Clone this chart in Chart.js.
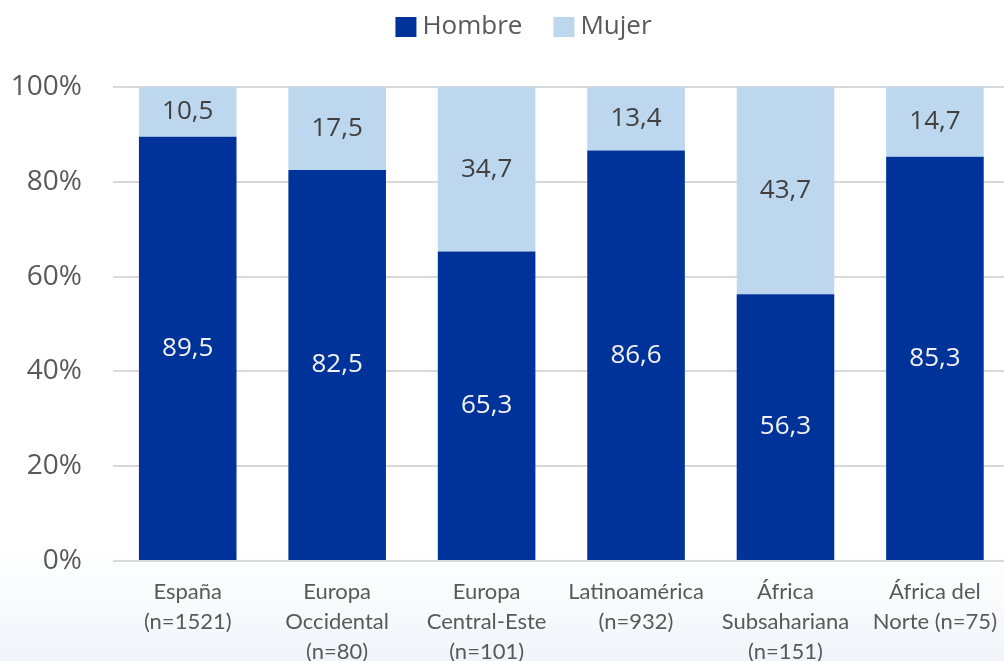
<!DOCTYPE html>
<html>
<head>
<meta charset="utf-8">
<script src="https://cdn.jsdelivr.net/npm/chart.js@4"></script>
<style>
  html, body { margin: 0; padding: 0; width: 1004px; height: 661px; overflow: hidden;
    background: linear-gradient(to bottom, #ffffff 0px, #ffffff 550px, #f1f5fa 661px); }
  #wrap { position: absolute; left: 0; top: 0; width: 1013px; height: 661px; }
</style>
</head>
<body>
<div id="wrap"><canvas id="c"></canvas></div>
<script>
const categories = [
  ["España", "(n=1521)"],
  ["Europa", "Occidental", "(n=80)"],
  ["Europa", "Central-Este", "(n=101)"],
  ["Latinoamérica", "(n=932)"],
  ["África", "Subsahariana", "(n=151)"],
  ["África del", "Norte (n=75)"]
];
const hombre = [89.5, 82.5, 65.3, 86.6, 56.3, 85.3];
const mujer = [10.5, 17.5, 34.7, 13.4, 43.7, 14.7];
const yTicks = [0, 20, 40, 60, 80, 100];

const labelPlugin = {
  id: 'valueLabels',
  afterDatasetsDraw(chart) {
    const ctx = chart.ctx;
    ctx.save();
    ctx.font = '26px "Open Sans"';
    ctx.textAlign = 'center';
    ctx.textBaseline = 'middle';
    chart.data.datasets.forEach((ds, i) => {
      const meta = chart.getDatasetMeta(i);
      ctx.fillStyle = ds.labelColor;
      meta.data.forEach((el, j) => {
        const v = ds.data[j];
        const y = (el.y + el.base) / 2;
        ctx.fillText(v.toFixed(1).replace('.', ','), el.x, y);
      });
    });
    ctx.restore();
  }
};

// Legend drawn from the datasets (label + colour), Excel-style spacing
const legendPlugin = {
  id: 'customLegend',
  afterDraw(chart) {
    const ctx = chart.ctx;
    const boxW = 21, boxH = 20, gap = 6, itemGap = 31, centerX = 523.5, centerY = 27;
    ctx.save();
    ctx.font = '26px "Open Sans"';
    ctx.textBaseline = 'middle';
    ctx.textAlign = 'left';
    const items = chart.data.datasets.map(ds => ({
      text: ds.label, color: ds.backgroundColor, w: ctx.measureText(ds.label).width
    }));
    let total = 0;
    items.forEach((it, i) => { total += boxW + gap + it.w + (i ? itemGap : 0); });
    let x = centerX - total / 2;
    items.forEach((it) => {
      ctx.fillStyle = it.color;
      ctx.fillRect(x, centerY - boxH / 2, boxW, boxH);
      ctx.fillStyle = '#595959';
      ctx.fillText(it.text, x + boxW + gap, centerY);
      x += boxW + gap + it.w + itemGap;
    });
    ctx.restore();
  }
};

new Chart(document.getElementById('c'), {
  type: 'bar',
  data: {
    labels: categories,
    datasets: [
      { label: 'Hombre', data: hombre, backgroundColor: '#003399', labelColor: '#f2f2f2',
        categoryPercentage: 1, barPercentage: 0.653 },
      { label: 'Mujer', data: mujer, backgroundColor: '#bdd7ee', labelColor: '#404040',
        categoryPercentage: 1, barPercentage: 0.653 }
    ]
  },
  options: {
    responsive: true,
    maintainAspectRatio: false,
    animation: false,
    layout: { padding: { top: 87, left: 0, right: 0, bottom: 0 } },
    plugins: {
      tooltip: { enabled: false },
      legend: { display: false }
    },
    scales: {
      x: {
        stacked: true,
        grid: { display: false, drawTicks: false },
        border: { display: false },
        ticks: {
          color: '#595959', padding: 16, maxRotation: 0, autoSkip: false,
          font: { family: 'Lato', size: 22, lineHeight: '30px' }
        },
        afterFit(scale) { scale.height = 100; }
      },
      y: {
        stacked: true,
        min: 0, max: 100,
        afterBuildTicks(scale) { scale.ticks = yTicks.map(v => ({ value: v })); },
        grid: { color: '#d9d9d9', lineWidth: 2, drawTicks: false },
        border: { display: false },
        ticks: {
          color: '#595959', padding: 31,
          font: { family: '"Open Sans"', size: 28 },
          callback: v => v + '%'
        },
        afterFit(scale) { scale.width = 113; }
      }
    }
  },
  plugins: [labelPlugin, legendPlugin]
});
</script>
</body>
</html>
